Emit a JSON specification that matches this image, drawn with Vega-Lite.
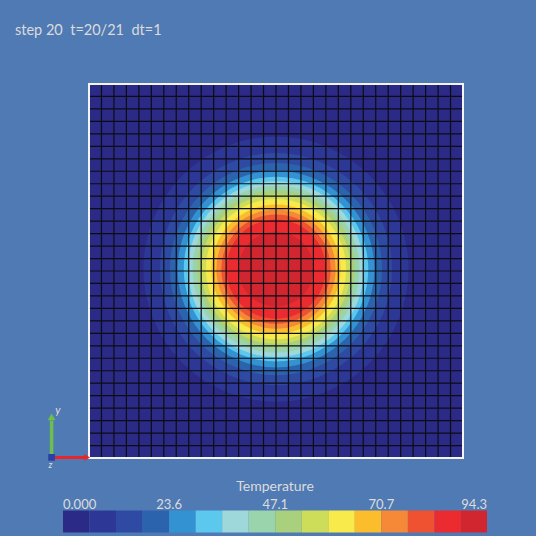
{
  "$schema": "https://vega.github.io/schema/vega-lite/v6.json",
  "width": 374,
  "height": 374,
  "autosize": {"type": "none"},
  "padding": {"left": 89, "top": 84, "right": 73, "bottom": 78},
  "background": "#507ab3",
  "view": {"stroke": null},
  "config": {"font": "Lato"},
  "title": {
    "text": "step 20\u00a0\u00a0t=20/21\u00a0\u00a0dt=1",
    "anchor": "start",
    "frame": "group",
    "dx": -74,
    "offset": 34,
    "baseline": "alphabetic",
    "fontSize": 14.5,
    "fontWeight": "normal",
    "color": "#dcdcdc"
  },
  "datasets": {
    "isotherms": [
      {"level": 0.0, "r": 25.0, "cx": 15.0, "cy": 15.15},
      {"level": 5.9, "r": 12.0, "cx": 15.0, "cy": 15.15},
      {"level": 11.8, "r": 10.5, "cx": 15.0, "cy": 15.15},
      {"level": 17.7, "r": 9.6, "cx": 15.0, "cy": 15.15},
      {"level": 23.6, "r": 8.9, "cx": 15.0, "cy": 15.15},
      {"level": 29.5, "r": 8.35, "cx": 15.0, "cy": 15.15},
      {"level": 35.4, "r": 7.95, "cx": 15.0, "cy": 15.15},
      {"level": 41.3, "r": 7.55, "cx": 15.0, "cy": 15.15},
      {"level": 47.2, "r": 7.15, "cx": 15.0, "cy": 15.15},
      {"level": 53.1, "r": 6.75, "cx": 15.0, "cy": 15.15},
      {"level": 59.0, "r": 6.35, "cx": 15.0, "cy": 15.15},
      {"level": 64.9, "r": 5.85, "cx": 15.0, "cy": 15.15},
      {"level": 70.8, "r": 5.4, "cx": 15.0, "cy": 15.15},
      {"level": 76.7, "r": 4.95, "cx": 15.0, "cy": 15.15},
      {"level": 82.6, "r": 4.5, "cx": 15.0, "cy": 15.15},
      {"level": 88.5, "r": 3.4, "cx": 15.0, "cy": 15.15}
    ],
    "gridlines": [
      {"g": 0}, {"g": 1}, {"g": 2}, {"g": 3}, {"g": 4}, {"g": 5}, {"g": 6}, {"g": 7},
      {"g": 8}, {"g": 9}, {"g": 10}, {"g": 11}, {"g": 12}, {"g": 13}, {"g": 14}, {"g": 15},
      {"g": 16}, {"g": 17}, {"g": 18}, {"g": 19}, {"g": 20}, {"g": 21}, {"g": 22}, {"g": 23},
      {"g": 24}, {"g": 25}, {"g": 26}, {"g": 27}, {"g": 28}, {"g": 29}, {"g": 30}
    ],
    "triad": [
      {"axis": "x", "x0": -2.85, "y0": 0.05, "x1": -0.3, "y1": 0.05, "tx": -0.15, "ty": 0.05, "label": "", "lx": 0, "ly": 0},
      {"axis": "y", "x0": -3, "y0": 0.3, "x1": -3, "y1": 3.0, "tx": -3, "ty": 3.3, "label": "y", "lx": -2.5, "ly": 3.8},
      {"axis": "z", "x0": -3, "y0": 0, "x1": -3, "y1": 0, "tx": -3, "ty": 0.05, "label": "z", "lx": -3.1, "ly": -0.55}
    ]
  },
  "layer": [
    {
      "data": {"name": "isotherms"},
      "mark": {"type": "point", "shape": "circle", "filled": true, "opacity": 1, "strokeWidth": 0, "clip": true},
      "encoding": {
        "x": {"field": "cx", "type": "quantitative", "scale": {"domain": [0, 30], "nice": false, "zero": false}, "axis": null},
        "y": {"field": "cy", "type": "quantitative", "scale": {"domain": [0, 30], "nice": false, "zero": false}, "axis": null},
        "size": {"field": "r", "type": "quantitative", "scale": {"type": "pow", "exponent": 2, "domain": [0, 30], "range": [0, 439437]}, "legend": null},
        "order": {"field": "r", "sort": "descending"},
        "color": {
          "field": "level",
          "type": "quantitative",
          "title": "Temperature",
          "scale": {
            "type": "quantize",
            "domain": [0, 94.3],
            "nice": false,
            "zero": false,
            "range": ["#2b2a86", "#2d3896", "#2f4aa3", "#2c63ad", "#3393d2", "#5cc8ee", "#9fd8da", "#9ad4ad",
                      "#a8d07d", "#cddd5a", "#f7ea4a", "#fcbd2c", "#f58937", "#ee5231", "#ec2b31", "#d1262f"]
          },
          "legend": {
            "type": "gradient",
            "orient": "none",
            "direction": "horizontal",
            "legendX": -26,
            "legendY": 396,
            "gradientLength": 424,
            "gradientThickness": 22,
            "gradientStrokeWidth": 0,
            "values": [0, 5.9, 11.8, 17.7, 23.6, 29.5, 35.4, 41.3, 47.2, 53.1, 59.0, 64.9, 70.8, 76.7, 82.6, 88.5, 94.3],
            "labelExpr": "datum.value < 0.01 ? '0.000' : abs(datum.value - 23.575) < 0.06 ? '23.6' : abs(datum.value - 47.15) < 0.06 ? '47.1' : abs(datum.value - 70.725) < 0.08 ? '70.7' : abs(datum.value - 94.3) < 0.01 ? '94.3' : ''",
            "labelOffset": -34,
            "labelBaseline": "alphabetic",
            "labelAlign": "center",
            "labelOverlap": false,
            "labelColor": "#dcdcdc",
            "labelFontSize": 13,
            "titleAnchor": "middle",
            "titleOrient": "top",
            "titleColor": "#dcdcdc",
            "titleFontSize": 14,
            "titleFontWeight": "normal",
            "titlePadding": 16.5
          }
        }
      }
    },
    {
      "data": {"name": "gridlines"},
      "mark": {"type": "rule", "color": "#0c0c14", "strokeWidth": 1.2},
      "encoding": {
        "x": {"field": "g", "type": "quantitative"},
        "y": {"datum": 0, "type": "quantitative"},
        "y2": {"datum": 30}
      }
    },
    {
      "data": {"name": "gridlines"},
      "mark": {"type": "rule", "color": "#0c0c14", "strokeWidth": 1.2},
      "encoding": {
        "y": {"field": "g", "type": "quantitative"},
        "x": {"datum": 0, "type": "quantitative"},
        "x2": {"datum": 30}
      }
    },
    {
      "data": {"values": [{"frame": "outline"}]},
      "mark": {"type": "rect", "filled": false, "stroke": "#f4f4f4", "strokeWidth": 2},
      "encoding": {
        "x": {"datum": 0, "type": "quantitative"},
        "x2": {"datum": 30},
        "y": {"datum": 0, "type": "quantitative"},
        "y2": {"datum": 30}
      }
    },
    {
      "data": {"name": "triad"},
      "transform": [{"filter": "datum.axis == 'x'"}],
      "layer": [
        {
          "mark": {"type": "rule", "color": "#e8262a", "strokeWidth": 3},
          "encoding": {
            "x": {"field": "x0", "type": "quantitative"},
            "y": {"field": "y0", "type": "quantitative"},
            "x2": {"field": "x1"},
            "y2": {"field": "y1"}
          }
        },
        {
          "mark": {"type": "point", "shape": "triangle-right", "filled": true, "color": "#e8262a", "opacity": 1, "size": 45},
          "encoding": {
            "x": {"field": "tx", "type": "quantitative"},
            "y": {"field": "ty", "type": "quantitative"}
          }
        }
      ]
    },
    {
      "data": {"name": "triad"},
      "transform": [{"filter": "datum.axis == 'y'"}],
      "layer": [
        {
          "mark": {"type": "rule", "color": "#6cbf4a", "strokeWidth": 3.5},
          "encoding": {
            "x": {"field": "x0", "type": "quantitative"},
            "y": {"field": "y0", "type": "quantitative"},
            "x2": {"field": "x1"},
            "y2": {"field": "y1"}
          }
        },
        {
          "mark": {"type": "point", "shape": "triangle-up", "filled": true, "color": "#6cbf4a", "opacity": 1, "size": 60},
          "encoding": {
            "x": {"field": "tx", "type": "quantitative"},
            "y": {"field": "ty", "type": "quantitative"}
          }
        },
        {
          "mark": {"type": "text", "color": "#dcdcdc", "fontSize": 11, "fontStyle": "italic"},
          "encoding": {
            "x": {"field": "lx", "type": "quantitative"},
            "y": {"field": "ly", "type": "quantitative"},
            "text": {"field": "label"}
          }
        }
      ]
    },
    {
      "data": {"name": "triad"},
      "transform": [{"filter": "datum.axis == 'z'"}],
      "layer": [
        {
          "mark": {"type": "point", "shape": "square", "filled": true, "color": "#2a3fa8", "opacity": 1, "size": 45},
          "encoding": {
            "x": {"field": "tx", "type": "quantitative"},
            "y": {"field": "ty", "type": "quantitative"}
          }
        },
        {
          "mark": {"type": "text", "color": "#dcdcdc", "fontSize": 9, "fontStyle": "italic"},
          "encoding": {
            "x": {"field": "lx", "type": "quantitative"},
            "y": {"field": "ly", "type": "quantitative"},
            "text": {"field": "label"}
          }
        }
      ]
    }
  ]
}
